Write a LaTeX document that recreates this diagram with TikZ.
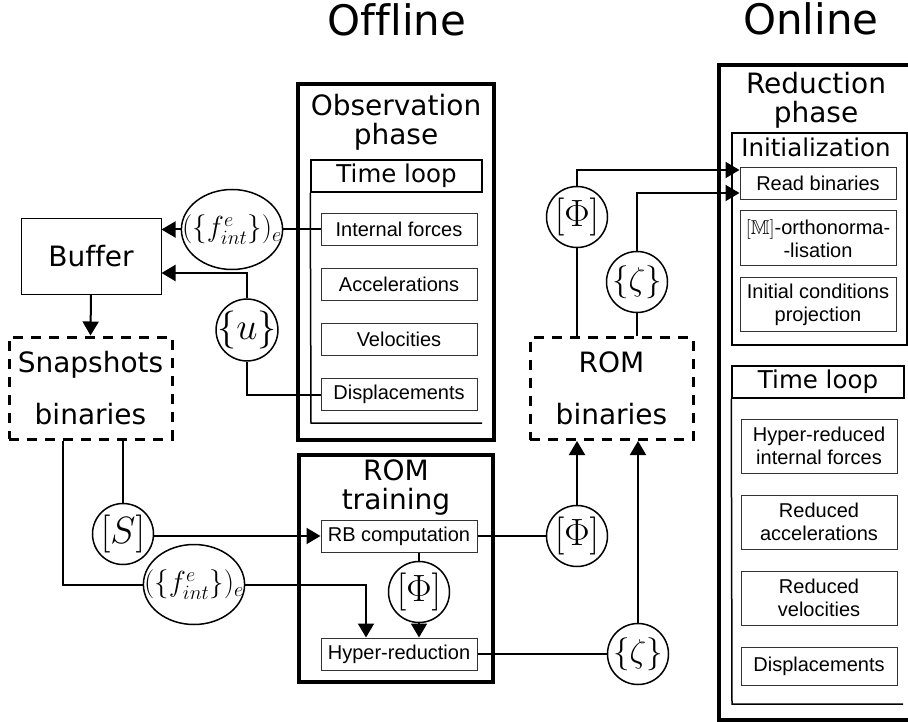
\documentclass[tikz,border=0pt]{standalone}
\usepackage{fix-cm}
\usepackage{amssymb}
\usepackage{amsmath}
\usepackage{fontspec}
\setmainfont{DejaVu Sans}[Ligatures=NoCommon]
\newfontfamily\arialfont{Liberation Sans}[Ligatures=NoCommon]
\usetikzlibrary{arrows.meta, positioning, shapes.geometric}

\tikzset{
  phasebox/.style={draw, line width=3.5pt, inner sep=0pt},
  headbox/.style={draw, line width=1.5pt, inner sep=0pt, font=\fontsize{24.5}{26}\selectfont},
  taskbox/.style={draw=black!80, line width=1pt, minimum width=156pt, minimum height=32pt, inner sep=0pt, align=center, font=\arialfont\fontsize{20}{23}\selectfont},
  filebox/.style={draw, line width=3pt, dash pattern=on 10pt off 8pt, minimum width=163pt, minimum height=102pt, align=center, font=\fontsize{28}{52}\selectfont},
  datanode/.style={circle, draw, line width=1.5pt, minimum size=61pt, inner sep=-3pt, font=\fontsize{38}{40}\selectfont},
  datafield/.style={ellipse, draw, line width=1.5pt, minimum width=101pt, minimum height=80pt, inner xsep=-14pt, inner ysep=0pt, font=\fontsize{29}{30}\selectfont},
  heading/.style={font=\fontsize{28}{29}\selectfont, align=center},
  wire/.style={line width=2pt},
  feed/.style={wire, -{Triangle[length=14pt, width=16pt]}},
}

\begin{document}
\begin{tikzpicture}[x=1pt, y=-1pt]
\useasboundingbox (0,0) rectangle (908,722);
\clip (0,0) rectangle (908,722);

% headings
\node[font=\fontsize{42}{44}\selectfont, anchor=base] (offline) at (397,36) {Offline};
\node[font=\fontsize{42}{44}\selectfont, anchor=base] (online) at (811,35) {Online};

% observation phase
\node[phasebox, minimum width=196pt, minimum height=356pt] (obs) at (396,262) {};
\node[heading] (obstitle) at (396,122) {Observation\\phase};
\node[headbox, minimum width=171pt, minimum height=32pt] (obsloop) at (396.5,176) {Time loop};
\draw[line width=1.5pt] (obsloop.south west) -- (311,423) -- (482,423);
\node[taskbox] (intf) at (399,229.5) {Internal forces};
\node[taskbox, below=22pt of intf] (acc) {Accelerations};
\node[taskbox, below=22pt of acc] (vel) {Velocities};
\node[taskbox, below=22pt of vel] (disp) {Displacements};

% buffer and snapshots
\node[draw, line width=1pt, minimum width=140pt, minimum height=75pt, font=\fontsize{28}{30}\selectfont] (buf) at (91,256.5) {Buffer};
\node[filebox] (snap) at (90.5,388) {Snapshots\\binaries};
\node[datafield] (fobs) at (232,229.5) {$(\{f^e_{int}\})_e$};
\node[datanode] (uobs) at (247,330) {$\{u\}$};
\draw[wire] (intf.west) -- (fobs.east);
\draw[feed] (fobs.west) -- (fobs.west -| buf.east);
\draw[wire] (disp.west) -| (uobs.south);
\draw[feed] (uobs.north) |- ([yshift=-16.5pt]buf.east);
\draw[feed] (buf.south) -- (snap.north);

% ROM training
\node[phasebox, minimum width=194pt, minimum height=227pt] (train) at (396,568.5) {};
\node[heading] (traintitle) at (396,488) {ROM\\training};
\node[taskbox] (rb) at (399,536) {RB computation};
\node[taskbox] (hr) at (399,654) {Hyper-reduction};
\node[datanode] (phitr) at (419,592) {$[\Phi]$};
\node[datanode] (sq) at (123,534) {$[S]$};
\node[datafield] (ftr) at (194,584.5) {$(\{f^e_{int}\})_e$};
\draw[wire] (sq.north |- snap.south) -- (sq.north);
\draw[feed] (sq.east |- rb.west) -- (rb.west);
\draw[wire] ([xshift=-27.5pt]snap.south) |- (ftr.west);
\draw[feed] (ftr.east) -| ([xshift=-33pt]hr.north);
\draw[wire] (rb.south -| phitr) -- (phitr.north);
\draw[feed] (phitr.south) -- (phitr.south |- hr.north);

% ROM binaries
\node[filebox] (rom) at (611.5,388.5) {ROM\\binaries};
\node[datanode] (phiout) at (577,536) {$[\Phi]$};
\node[datanode, font=\fontsize{33}{35}\selectfont] (zout) at (638,654) {$\{\zeta\}$};
\draw[wire] (rb.east) -- (phiout.west);
\draw[feed] (phiout.north) -- (phiout.north |- rom.south);
\draw[wire] (hr.east) -- (zout.west);
\draw[feed] (zout.north) -- (zout.north |- rom.south);
\node[datanode] (phiup) at (577,217) {$[\Phi]$};
\node[datanode, font=\fontsize{33}{35}\selectfont] (zup) at (637,282) {$\{\zeta\}$};

% online: reduction phase
\node[phasebox, minimum width=194pt, minimum height=655pt] (red) at (816,392.5) {};
\node[heading] (redtitle) at (816,100) {Reduction\\phase};
\node[draw, line width=1.5pt, minimum width=175pt, minimum height=212pt] (init) at (819.5,239) {};
\node[font=\fontsize{24.5}{26}\selectfont, anchor=base] (inittitle) at (816,157) {Initialization};
\node[taskbox] (read) at (818,183.5) {Read binaries};
\node[taskbox, minimum height=55pt] (ortho) at (818,238.5) {$[\mathbb{M}]$-orthonorma-\\-lisation};
\node[taskbox, minimum height=53pt] (icp) at (818,304.5) {Initial conditions\\projection};
\draw[wire] (phiup.south |- rom.north) -- (phiup.south);
\draw[feed] (phiup.north) |- ([yshift=13.5pt]read.west);
\draw[wire] (zup.south |- rom.north) -- (zup.south);
\draw[feed] (zup.north) |- ([yshift=-9.5pt]read.west);

\node[headbox, minimum width=172pt, minimum height=32pt] (redloop) at (818,382) {Time loop};
\draw[line width=1.5pt] (redloop.south west) -- (732,704) -- (903,704);
\node[taskbox, minimum height=54pt] (hri) at (819,446) {Hyper-reduced\\internal forces};
\node[taskbox, minimum height=54pt, below=21pt of hri] (racc) {Reduced\\accelerations};
\node[taskbox, minimum height=54pt, below=21pt of racc] (rvel) {Reduced\\velocities};
\node[taskbox, minimum height=38pt, below=21pt of rvel] (rdisp) {Displacements};
\end{tikzpicture}
\end{document}
